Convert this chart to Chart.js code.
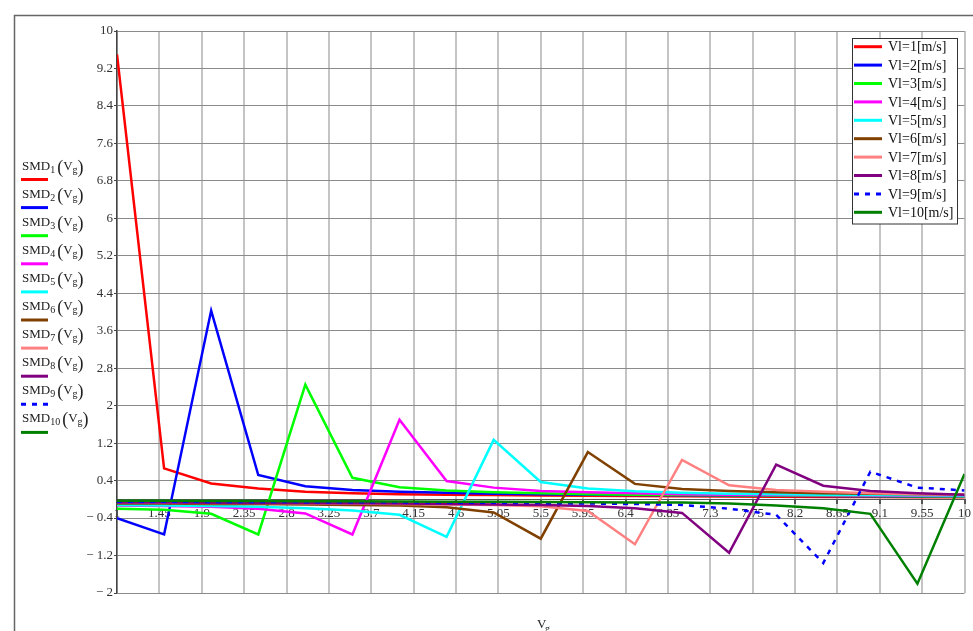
<!DOCTYPE html>
<html>
<head>
<meta charset="utf-8">
<script src="https://cdn.jsdelivr.net/npm/chart.js@4.4.1/dist/chart.umd.min.js"></script>
<style>
  html, body { margin: 0; padding: 0; background: #fff; }
  #wrap { width: 973px; height: 631px; }
</style>
</head>
<body>
<div id="wrap"><canvas id="smdChart" width="973" height="631"></canvas></div>
<script>
// Vg values where SMD was evaluated
const vg = [1, 1.5, 2, 2.5, 3, 3.5, 4, 4.5, 5, 5.5, 6, 6.5, 7, 7.5, 8, 8.5, 9, 9.5, 10];

// SMD_k(Vg), one list per Vl
const smd1 = [9.5, 0.66, 0.34, 0.23, 0.16, 0.13, 0.11, 0.1, 0.09, 0.08, 0.075, 0.07, 0.065, 0.06, 0.055, 0.052, 0.05, 0.047, 0.045];
const smd2 = [-0.4, -0.75, 4.03, 0.52, 0.28, 0.2, 0.16, 0.14, 0.12, 0.11, 0.1, 0.09, 0.085, 0.08, 0.075, 0.07, 0.065, 0.06, 0.058];
const smd3 = [-0.2, -0.22, -0.31, -0.75, 2.45, 0.46, 0.26, 0.19, 0.15, 0.13, 0.11, 0.1, 0.09, 0.085, 0.08, 0.075, 0.07, 0.065, 0.06];
const smd4 = [-0.13, -0.14, -0.16, -0.2, -0.3, -0.75, 1.7, 0.39, 0.25, 0.18, 0.15, 0.13, 0.11, 0.1, 0.09, 0.085, 0.08, 0.075, 0.07];
const smd5 = [-0.12, -0.13, -0.14, -0.16, -0.19, -0.24, -0.33, -0.8, 1.27, 0.37, 0.23, 0.17, 0.14, 0.12, 0.11, 0.1, 0.09, 0.085, 0.08];
const smd6 = [-0.09, -0.09, -0.1, -0.1, -0.11, -0.12, -0.13, -0.17, -0.28, -0.84, 1.01, 0.33, 0.22, 0.18, 0.15, 0.13, 0.12, 0.11, 0.1];
const smd7 = [-0.07, -0.075, -0.08, -0.08, -0.085, -0.09, -0.1, -0.11, -0.12, -0.15, -0.25, -0.96, 0.84, 0.3, 0.2, 0.16, 0.13, 0.11, 0.1];
const smd8 = [-0.07, -0.07, -0.075, -0.08, -0.08, -0.085, -0.09, -0.1, -0.11, -0.12, -0.14, -0.19, -0.29, -1.14, 0.74, 0.29, 0.18, 0.13, 0.1];
const smd9 = [-0.05, -0.05, -0.055, -0.055, -0.06, -0.06, -0.065, -0.07, -0.075, -0.08, -0.09, -0.1, -0.12, -0.2, -0.33, -1.36, 0.59, 0.25, 0.19];
const smd10 = [-0.03, -0.03, -0.035, -0.035, -0.04, -0.04, -0.045, -0.05, -0.05, -0.055, -0.06, -0.065, -0.07, -0.09, -0.13, -0.19, -0.31, -1.8, 0.54];

const seriesNames = ['Vl=1[m/s]', 'Vl=2[m/s]', 'Vl=3[m/s]', 'Vl=4[m/s]', 'Vl=5[m/s]',
                     'Vl=6[m/s]', 'Vl=7[m/s]', 'Vl=8[m/s]', 'Vl=9[m/s]', 'Vl=10[m/s]'];
const lineColors = ['#ff0000', '#0000ff', '#00ff00', '#ff00ff', '#00ffff',
                    '#804000', '#ff8080', '#800080', '#0000ff', '#008000'];

// tick labels
const xTicks = [1, 1.45, 1.9, 2.35, 2.8, 3.25, 3.7, 4.15, 4.6, 5.05, 5.5, 5.95, 6.4, 6.85, 7.3, 7.75, 8.2, 8.65, 9.1, 9.55, 10];
const yTicks = [-2, -1.2, -0.4, 0.4, 1.2, 2, 2.8, 3.6, 4.4, 5.2, 6, 6.8, 7.6, 8.4, 9.2, 10];

const allSeries = [smd1, smd2, smd3, smd4, smd5, smd6, smd7, smd8, smd9, smd10];
const SERIF = '"Liberation Serif", "Times New Roman", serif';
const DOTTED = [5, 6];

function fmtTick(v) {
    const r = Math.round(v * 100) / 100;
    return r < 0 ? '\u2212 ' + Math.abs(r) : String(r);
}

// frame, both legends and the axis title, drawn by hand like the Mathcad sheet
const decorations = {
    id: 'decorations',
    afterDraw(chart) {
        const ctx = chart.ctx;
        ctx.save();

        // outer region frame
        ctx.strokeStyle = '#666';
        ctx.lineWidth = 1.5;
        ctx.beginPath();
        ctx.moveTo(14.5, 640);
        ctx.lineTo(14.5, 15.5);
        ctx.lineTo(990, 15.5);
        ctx.stroke();

        // left legend: SMD_k(V_g) with line sample under each
        ctx.fillStyle = '#222';
        ctx.textBaseline = 'alphabetic';
        for (let i = 0; i < 10; i++) {
            const b = 169.5 + i * 28.1;
            let x = 22;
            ctx.font = '13px ' + SERIF;
            ctx.fillText('SMD', x, b);
            x += ctx.measureText('SMD').width;
            ctx.font = '10px ' + SERIF;
            ctx.fillText(String(i + 1), x, b + 3);
            x += ctx.measureText(String(i + 1)).width + 2;
            ctx.font = '18px ' + SERIF;
            ctx.fillText('(', x, b + 3);
            x += ctx.measureText('(').width;
            ctx.font = '13px ' + SERIF;
            ctx.fillText('V', x, b);
            x += ctx.measureText('V').width;
            ctx.font = '10px ' + SERIF;
            ctx.fillText('g', x, b + 3);
            x += ctx.measureText('g').width;
            ctx.font = '18px ' + SERIF;
            ctx.fillText(')', x, b + 3);

            ctx.strokeStyle = lineColors[i];
            ctx.lineWidth = 3;
            ctx.setLineDash(i === 8 ? DOTTED : []);
            ctx.beginPath();
            ctx.moveTo(21, b + 10);
            ctx.lineTo(48, b + 10);
            ctx.stroke();
        }
        ctx.setLineDash([]);

        // right legend box
        ctx.fillStyle = '#fff';
        ctx.fillRect(852.5, 38.5, 105, 185.5);
        ctx.strokeStyle = '#333';
        ctx.lineWidth = 1;
        ctx.strokeRect(852.5, 38.5, 105, 185.5);
        ctx.font = '14px ' + SERIF;
        ctx.textBaseline = 'middle';
        for (let i = 0; i < 10; i++) {
            const y = 46.7 + i * 18.4;
            ctx.strokeStyle = lineColors[i];
            ctx.lineWidth = 3;
            ctx.setLineDash(i === 8 ? DOTTED : []);
            ctx.beginPath();
            ctx.moveTo(854, y);
            ctx.lineTo(882, y);
            ctx.stroke();
            ctx.fillStyle = '#111';
            ctx.fillText(seriesNames[i], 888, y + 1);
        }
        ctx.setLineDash([]);

        // x axis title V_g
        ctx.fillStyle = '#222';
        ctx.textBaseline = 'alphabetic';
        ctx.font = '13px ' + SERIF;
        ctx.fillText('V', 537, 628);
        ctx.font = '10px ' + SERIF;
        ctx.fillText('g', 545, 632);

        ctx.restore();
    }
};

const ctx = document.getElementById('smdChart').getContext('2d');
new Chart(ctx, {
    type: 'line',
    data: {
        datasets: allSeries.map((s, i) => ({
            label: seriesNames[i],
            data: vg.map((x, j) => ({ x: x, y: s[j] })),
            borderColor: lineColors[i],
            borderWidth: 2.5,
            borderDash: i === 8 ? DOTTED : [],
            pointRadius: 0,
            tension: 0,
            fill: false,
            order: 9 - i // later traces on top
        }))
    },
    options: {
        responsive: false,
        animation: false,
        layout: { padding: { left: 77, top: 31, right: 7, bottom: 38 } },
        plugins: {
            legend: { display: false },
            tooltip: { enabled: false }
        },
        scales: {
            x: {
                type: 'linear',
                min: 1,
                max: 10,
                position: { y: 0 },
                afterBuildTicks: s => { s.ticks = xTicks.map(v => ({ value: v })); },
                grid: { color: '#c4c4c4', lineWidth: 2, tickLength: 4, tickColor: '#555' },
                border: { display: true, color: '#555', width: 1 },
                ticks: {
                    autoSkip: false,
                    maxRotation: 0,
                    padding: 2,
                    color: '#333',
                    font: { family: SERIF, size: 13 },
                    callback: v => fmtTick(v)
                }
            },
            y: {
                type: 'linear',
                min: -2,
                max: 10,
                afterBuildTicks: s => { s.ticks = yTicks.map(v => ({ value: v })); },
                afterFit: s => { s.width = 40; },
                grid: { color: '#8a8a8a', lineWidth: 1, tickLength: 3, tickColor: '#444' },
                border: { color: '#444', width: 1.5 },
                ticks: {
                    padding: 1,
                    color: '#333',
                    font: { family: SERIF, size: 13 },
                    callback: v => fmtTick(v)
                }
            }
        }
    },
    plugins: [decorations]
});
</script>
</body>
</html>
